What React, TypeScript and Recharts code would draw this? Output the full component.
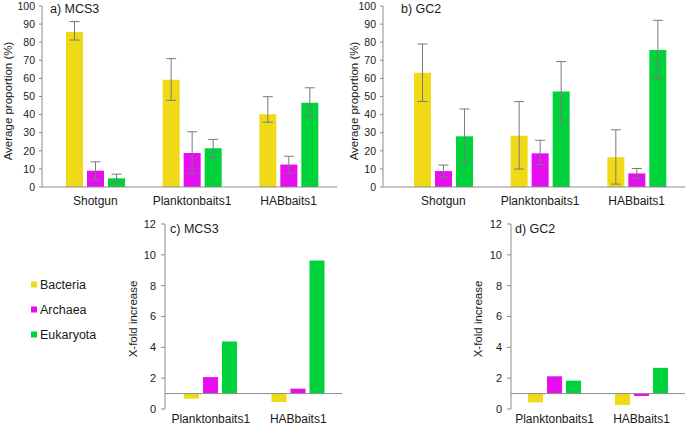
import { Bar, BarChart, ErrorBar, ReferenceLine, XAxis, YAxis } from "recharts";

const FONT = "'Liberation Sans', Arial, Helvetica, sans-serif";
const AXIS_GREY = "#8c8c8c";
const TEXT = "#1a1a1a";

const seriesNames = ["Bacteria", "Archaea", "Eukaryota"];
const seriesKeys = ["bacteria", "archaea", "eukaryota"];
const seriesColors = ["#F0DA18", "#E60EF0", "#00D23C"];

// top row: average proportion (%) with error bars [minus, plus]
const topCategories = ["Shotgun", "Planktonbaits1", "HABbaits1"];
const proportionTicks = [0, 10, 20, 30, 40, 50, 60, 70, 80, 90, 100];

const mcs3Bacteria = [85.7, 59.2, 40.2];
const mcs3Archaea = [9.0, 18.8, 12.4];
const mcs3Eukaryota = [4.8, 21.4, 46.6];
const mcs3BacteriaErr = [[4.5, 5.7], [11.3, 11.7], [4.4, 9.7]];
const mcs3ArchaeaErr = [[5.0, 4.9], [11.5, 11.7], [4.7, 4.6]];
const mcs3EukaryotaErr = [[2.4, 2.3], [4.9, 4.9], [7.8, 8.2]];

const gc2Bacteria = [63.1, 28.3, 16.5];
const gc2Archaea = [8.8, 18.6, 7.5];
const gc2Eukaryota = [28.0, 52.7, 75.7];
const gc2BacteriaErr = [[15.9, 15.9], [18.4, 18.9], [14.9, 15.1]];
const gc2ArchaeaErr = [[3.3, 3.3], [6.2, 7.2], [2.7, 2.7]];
const gc2EukaryotaErr = [[15.0, 15.1], [17.2, 16.6], [16.3, 16.4]];

// bottom row: x-fold increase relative to shotgun (baseline 1)
const foldCategories = ["Planktonbaits1", "HABbaits1"];
const foldTicks = [0, 2, 4, 6, 8, 10, 12];

const mcs3FoldBacteria = [0.67, 0.45];
const mcs3FoldArchaea = [2.07, 1.32];
const mcs3FoldEukaryota = [4.38, 9.63];

const gc2FoldBacteria = [0.43, 0.26];
const gc2FoldArchaea = [2.12, 0.84];
const gc2FoldEukaryota = [1.84, 2.67];

function proportionRows(values: number[][], errors: number[][][]) {
  return topCategories.map((name, i) => ({
    name,
    bacteria: values[0][i],
    archaea: values[1][i],
    eukaryota: values[2][i],
    bacteriaErr: errors[0][i],
    archaeaErr: errors[1][i],
    eukaryotaErr: errors[2][i],
  }));
}

function foldRows(values: number[][]) {
  return foldCategories.map((name, i) => ({
    name,
    bacteria: values[0][i],
    archaea: values[1][i],
    eukaryota: values[2][i],
  }));
}

const mcs3Data = proportionRows(
  [mcs3Bacteria, mcs3Archaea, mcs3Eukaryota],
  [mcs3BacteriaErr, mcs3ArchaeaErr, mcs3EukaryotaErr],
);
const gc2Data = proportionRows(
  [gc2Bacteria, gc2Archaea, gc2Eukaryota],
  [gc2BacteriaErr, gc2ArchaeaErr, gc2EukaryotaErr],
);
const mcs3FoldData = foldRows([mcs3FoldBacteria, mcs3FoldArchaea, mcs3FoldEukaryota]);
const gc2FoldData = foldRows([gc2FoldBacteria, gc2FoldArchaea, gc2FoldEukaryota]);

const categoryTick = { fill: TEXT, fontSize: 12, fontFamily: FONT };
const proportionTick = { fill: TEXT, fontSize: 10.5, fontFamily: FONT };
const foldTick = { fill: TEXT, fontSize: 11, fontFamily: FONT };

interface ProportionChartProps {
  data: ReturnType<typeof proportionRows>;
  width: number;
  marginLeft: number;
  marginRight: number;
  padLeft: number;
}

function ProportionChart({ data, width, marginLeft, marginRight, padLeft }: ProportionChartProps) {
  return (
    <BarChart
      width={width}
      height={235}
      data={data}
      margin={{ top: 11, right: marginRight, bottom: 18, left: marginLeft }}
      barSize={17}
      barGap={4}
    >
      <XAxis
        dataKey="name"
        height={25}
        tickLine={false}
        axisLine={{ stroke: AXIS_GREY }}
        tick={categoryTick}
        tickMargin={3}
        padding={{ left: padLeft, right: 0 }}
        interval={0}
      />
      <YAxis
        width={30}
        domain={[0, 100]}
        ticks={proportionTicks}
        interval={0}
        axisLine={{ stroke: AXIS_GREY }}
        tickLine={{ stroke: AXIS_GREY }}
        tickSize={3}
        tickMargin={4}
        tick={proportionTick}
      />
      {seriesKeys.map((key, i) => (
        <Bar key={key} dataKey={key} name={seriesNames[i]} fill={seriesColors[i]} isAnimationActive={false}>
          <ErrorBar dataKey={`${key}Err`} width={5} stroke="#7a7a7a" strokeWidth={1} />
        </Bar>
      ))}
    </BarChart>
  );
}

interface FoldChartProps {
  data: ReturnType<typeof foldRows>;
  width: number;
  marginLeft: number;
  marginRight: number;
  padLeft: number;
}

function FoldChart({ data, width, marginLeft, marginRight, padLeft }: FoldChartProps) {
  return (
    <BarChart
      width={width}
      height={210}
      data={data}
      margin={{ top: 9, right: marginRight, bottom: 0, left: marginLeft }}
      barSize={15}
      barGap={4}
    >
      <XAxis
        dataKey="name"
        height={16}
        tickLine={false}
        axisLine={false}
        tick={categoryTick}
        tickSize={2}
        tickMargin={3}
        padding={{ left: padLeft, right: 0 }}
        interval={0}
      />
      <YAxis
        width={30}
        domain={[0, 12]}
        ticks={foldTicks}
        interval={0}
        axisLine={{ stroke: AXIS_GREY }}
        tickLine={{ stroke: AXIS_GREY }}
        tickSize={4}
        tickMargin={5}
        tick={foldTick}
      />
      <ReferenceLine y={1} stroke={AXIS_GREY} strokeWidth={1} />
      {seriesKeys.map((key, i) => (
        <Bar
          key={key}
          dataKey={(row: Record<string, number | string>) => {
            const v = row[key] as number;
            return [Math.min(1, v), Math.max(1, v)];
          }}
          name={seriesNames[i]}
          fill={seriesColors[i]}
          isAnimationActive={false}
        />
      ))}
    </BarChart>
  );
}

export default function App() {
  const textProps = { fontFamily: FONT, fill: TEXT };
  return (
    <div
      style={{
        position: "absolute",
        left: 0,
        top: 0,
        width: 685,
        height: 425,
        background: "#ffffff",
        overflow: "hidden",
        fontFamily: FONT,
      }}
    >
      <div style={{ position: "absolute", left: 0, top: -5 }}>
        <ProportionChart data={mcs3Data} width={340} marginLeft={12} marginRight={3} padLeft={5} />
      </div>
      <div style={{ position: "absolute", left: 340, top: -5 }}>
        <ProportionChart data={gc2Data} width={345} marginLeft={13} marginRight={0} padLeft={12} />
      </div>
      <div style={{ position: "absolute", left: 120, top: 215 }}>
        <FoldChart data={mcs3FoldData} width={230} marginLeft={15} marginRight={8} padLeft={2} />
      </div>
      <div style={{ position: "absolute", left: 470, top: 215 }}>
        <FoldChart data={gc2FoldData} width={215} marginLeft={11} marginRight={0} padLeft={0} />
      </div>

      <svg
        width={685}
        height={425}
        style={{ position: "absolute", left: 0, top: 0, pointerEvents: "none" }}
      >
        <text x={50} y={12.5} fontSize={12.5} {...textProps}>a) MCS3</text>
        <text x={401} y={12.5} fontSize={12.5} {...textProps}>b) GC2</text>
        <text x={170} y={233} fontSize={12.5} {...textProps}>c) MCS3</text>
        <text x={515} y={233} fontSize={12.5} {...textProps}>d) GC2</text>

        <text
          x={8}
          y={101}
          fontSize={11.5}
          textAnchor="middle"
          dominantBaseline="central"
          transform="rotate(-90 8 101)"
          {...textProps}
        >
          Average proportion (%)
        </text>
        <text
          x={354}
          y={101}
          fontSize={11.5}
          textAnchor="middle"
          dominantBaseline="central"
          transform="rotate(-90 354 101)"
          {...textProps}
        >
          Average proportion (%)
        </text>
        <text
          x={133}
          y={319}
          fontSize={11.5}
          textAnchor="middle"
          dominantBaseline="central"
          transform="rotate(-90 133 319)"
          {...textProps}
        >
          X-fold increase
        </text>
        <text
          x={478}
          y={319}
          fontSize={11.5}
          textAnchor="middle"
          dominantBaseline="central"
          transform="rotate(-90 478 319)"
          {...textProps}
        >
          X-fold increase
        </text>

        {seriesNames.map((name, i) => (
          <g key={name}>
            <rect x={31} y={281.5 + i * 25} width={6} height={6} fill={seriesColors[i]} />
            <text x={40} y={289 + i * 25} fontSize={12.5} {...textProps}>
              {name}
            </text>
          </g>
        ))}
      </svg>
    </div>
  );
}
